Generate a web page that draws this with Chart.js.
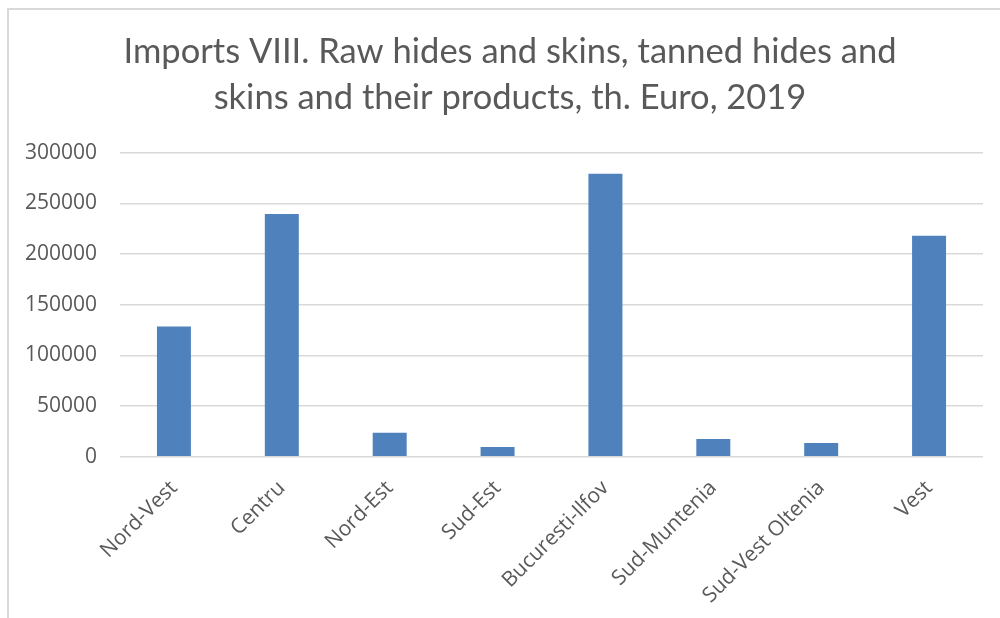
<!DOCTYPE html>
<html>
<head>
<meta charset="utf-8">
<script src="https://cdn.jsdelivr.net/npm/chart.js@4/dist/chart.umd.min.js"></script>
<style>
  html, body { margin: 0; padding: 0; background: #fff; }
  #wrap { position: relative; width: 1000px; height: 618px; }
</style>
</head>
<body>
<div id="wrap"><canvas id="chart" width="1000" height="618"></canvas></div>
<script>
// chart data
const regions = ['Nord-Vest', 'Centru', 'Nord-Est', 'Sud-Est', 'Bucuresti-Ilfov', 'Sud-Muntenia', 'Sud-Vest Oltenia', 'Vest'];
const imports = [128500, 239500, 23700, 9600, 279300, 17500, 13400, 218100];
const yTicks = [0, 50000, 100000, 150000, 200000, 250000, 300000];
const titleLines = ['Imports VIII. Raw hides and skins, tanned hides and', 'skins and their products, th. Euro, 2019'];

const textGray = '#595959';
const gridGray = '#d9d9d9';

// light frame on the left and top, like the excel chart area
const framePlugin = {
    id: 'frame',
    beforeDraw(chart) {
        const ctx = chart.ctx;
        ctx.save();
        ctx.strokeStyle = '#d9d9d9';
        ctx.lineWidth = 2;
        ctx.beginPath();
        ctx.moveTo(8, 618);
        ctx.lineTo(8, 9);
        ctx.lineTo(1000, 9);
        ctx.stroke();
        ctx.restore();
    }
};

// two-line title, centred a bit right of the canvas middle like the original
const titlePlugin = {
    id: 'excelTitle',
    afterDraw(chart) {
        const ctx = chart.ctx;
        ctx.save();
        ctx.fillStyle = textGray;
        ctx.font = '34.5px Lato';
        ctx.textAlign = 'center';
        ctx.textBaseline = 'middle';
        titleLines.forEach((line, i) => ctx.fillText(line, 510, 52 + i * 46));
        ctx.restore();
    }
};

new Chart(document.getElementById('chart'), {
    type: 'bar',
    data: {
        labels: regions,
        datasets: [{
            label: 'Imports',
            data: imports,
            backgroundColor: '#4f81bd',
            borderWidth: 0,
            barPercentage: 0.315,
            categoryPercentage: 1
        }]
    },
    options: {
        responsive: false,
        animation: false,
        layout: {
            padding: { left: 0, right: 17, top: 152.7, bottom: 0 }
        },
        plugins: {
            legend: { display: false },
            tooltip: { enabled: false },
            title: { display: false }
        },
        scales: {
            x: {
                grid: { display: false },
                border: { display: false },
                afterFit(scale) { scale.height = 161.3; },
                ticks: {
                    color: textGray,
                    font: { family: "'Open Sans'", size: 21 },
                    maxRotation: 45,
                    minRotation: 45,
                    autoSkip: false,
                    padding: 11
                }
            },
            y: {
                min: 0,
                max: 300000,
                afterFit(scale) { scale.width = 120; },
                afterBuildTicks(scale) { scale.ticks = yTicks.map(v => ({ value: v })); },
                border: { display: false },
                grid: { color: gridGray, lineWidth: 1.5, drawTicks: false },
                ticks: {
                    color: textGray,
                    font: { family: "'Open Sans'", size: 21 },
                    padding: 23,
                    callback: v => String(v)
                }
            }
        }
    },
    plugins: [framePlugin, titlePlugin]
});
</script>
</body>
</html>
